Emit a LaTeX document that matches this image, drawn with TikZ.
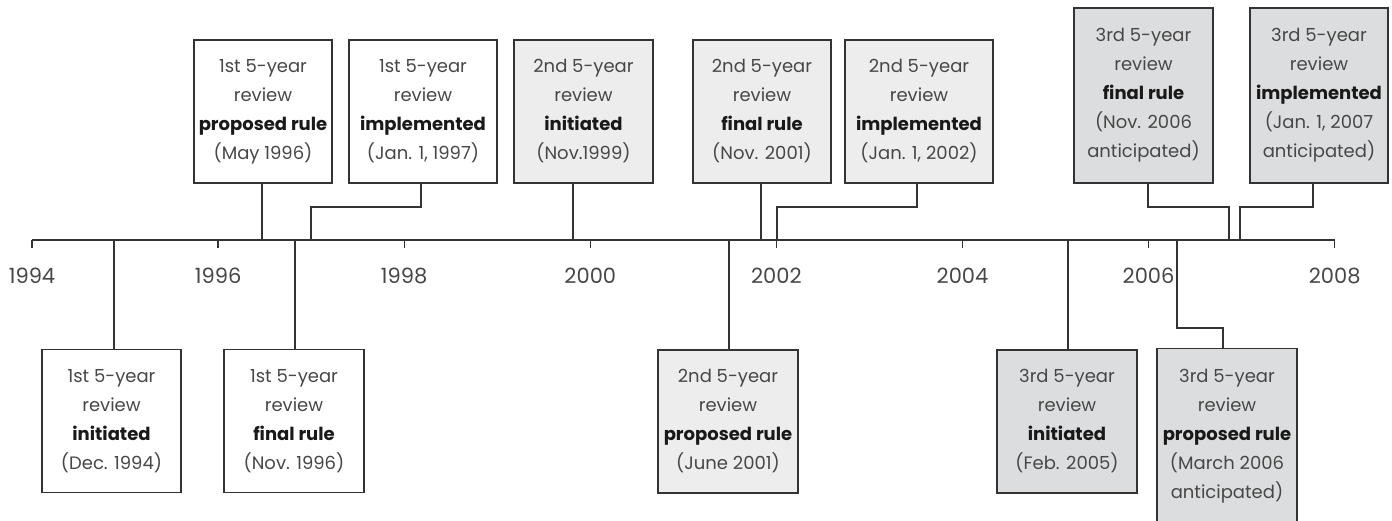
\documentclass[tikz,border=0pt]{standalone}
\usepackage{fontspec}
\setmainfont{Poppins}
\definecolor{linec}{HTML}{333333}
\definecolor{txtc}{HTML}{474747}
\definecolor{fillB}{HTML}{EDEDED}
\definecolor{fillC}{HTML}{DCDDDE}
\begin{document}
\begin{tikzpicture}[x=1pt,y=-1pt,
  ln/.style={draw=linec,line width=1.3pt},
  evbox/.style={draw=linec,line width=1.3pt,fill=white,align=center,inner sep=0pt,
    text=txtc,font=\fontsize{18}{29}\selectfont,minimum width=139pt,minimum height=143pt},
  box2/.style={evbox,fill=fillB},
  box3/.style={evbox,fill=fillC},
  yr/.style={text=txtc,font=\fontsize{21}{24}\selectfont,inner sep=0pt}]
\useasboundingbox (0,0) rectangle (1392,520);
\newcommand{\bw}[1]{{\bfseries\color{black!90}#1}}
% axis
\coordinate (axL) at (32,240);
\coordinate (axR) at (1335,240);
\draw[ln] (axL) -- (axR);
\foreach \i/\yy in {0/1994,1/1996,2/1998,3/2000,4/2002,5/2004,6/2006,7/2008}{
  \coordinate (t\i) at ({32+186.1*\i},240);
  \coordinate (tb\i) at ({32+186.1*\i},248);
  \draw[ln] (t\i) -- (tb\i);
  \node[yr] (y\i) at ({32+186.1*\i},276) {\yy};
}
% top boxes
\node[evbox,minimum width=138pt] (p1) at (263,111.5) {1st 5-year\\review\\\bw{proposed rule}\\(May 1996)};
\node[evbox,minimum width=148pt] (i1) at (423,111.5) {1st 5-year\\review\\\bw{implemented}\\(Jan. 1, 1997)};
\node[box2] (n2) at (583.5,111.5) {2nd 5-year\\review\\\bw{initiated}\\(Nov.1999)};
\node[box2,minimum width=138pt] (f2) at (762,111.5) {2nd 5-year\\review\\\bw{final rule}\\(Nov. 2001)};
\node[box2,minimum width=148pt] (i2) at (919,111.5) {2nd 5-year\\review\\\bw{implemented}\\(Jan. 1, 2002)};
\node[box3,minimum height=175pt] (f3) at (1143.5,95.5) {3rd 5-year\\review\\\bw{final rule}\\(Nov. 2006\\anticipated)};
\node[box3,minimum width=138pt,minimum height=175pt] (i3) at (1319,95.5) {3rd 5-year\\review\\\bw{implemented}\\(Jan. 1, 2007\\anticipated)};
% bottom boxes
\node[evbox] (n1) at (111.5,421) {1st 5-year\\review\\\bw{initiated}\\(Dec. 1994)};
\node[evbox,minimum width=140pt] (f1) at (294,421) {1st 5-year\\review\\\bw{final rule}\\(Nov. 1996)};
\node[box2,minimum width=140pt] (p2) at (728,421.5) {2nd 5-year\\review\\\bw{proposed rule}\\(June 2001)};
\node[box3,minimum width=140pt] (n3) at (1067,421.5) {3rd 5-year\\review\\\bw{initiated}\\(Feb. 2005)};
\node[box3,minimum width=140pt,minimum height=176pt,anchor=north] (p3) at (1227,348) {3rd 5-year\\review\\\bw{proposed rule}\\(March 2006\\anticipated)};
% connection points on axis
\coordinate (cp1) at (262,240);
\coordinate (ci1) at (311,240);
\coordinate (cn2) at (573,240);
\coordinate (cf2) at (761,240);
\coordinate (ci2) at (777,240);
\coordinate (cf3) at (1229,240);
\coordinate (ci3) at (1240,240);
\coordinate (cn1) at (114,240);
\coordinate (cf1) at (295,240);
\coordinate (cp2) at (729,240);
\coordinate (cn3) at (1068,240);
\coordinate (cp3) at (1177,240);
% connectors
\draw[ln] (cp1) -- (cp1 |- p1.south);
\draw[ln] (ci1) |- (421,207) -- (421,183);
\draw[ln] (cn2) -- (cn2 |- n2.south);
\draw[ln] (cf2) -- (cf2 |- f2.south);
\draw[ln] (ci2) |- (917,207) -- (917,183);
\draw[ln] (cf3) |- (1148,207) -- (1148,183);
\draw[ln] (ci3) |- (1313,207) -- (1313,183);
\draw[ln] (cn1) -- (cn1 |- n1.north);
\draw[ln] (cf1) -- (cf1 |- f1.north);
\draw[ln] (cp2) -- (cp2 |- p2.north);
\draw[ln] (cn3) -- (cn3 |- n3.north);
\draw[ln] (cp3) |- (1223,328) -- (1223,348);
\end{tikzpicture}
\end{document}
